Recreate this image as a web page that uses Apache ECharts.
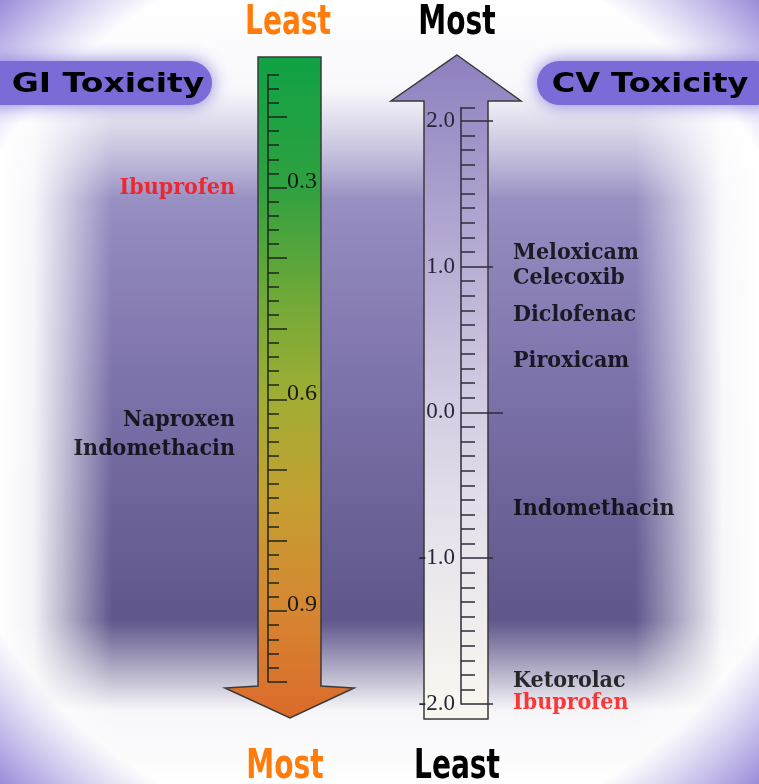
<!DOCTYPE html>
<html>
<head>
<meta charset="utf-8">
<script src="https://cdn.jsdelivr.net/npm/echarts@6/dist/echarts.min.js"></script>
<style>
  html, body { margin: 0; padding: 0; background: #fff; }
  #chart { width: 759px; height: 784px; }
</style>
</head>
<body>
<div id="chart"></div>
<script>
  // GI toxicity scale (top = least toxic)
  var giMajorTicks = [0.2, 0.3, 0.4, 0.5, 0.6, 0.7, 0.8, 0.9, 1.0];
  var giTickLabels = [0.3, 0.6, 0.9];
  var giDrugs = ['Ibuprofen', 'Naproxen', 'Indomethacin'];
  var giValues = [0.30, 0.63, 0.67];

  // CV toxicity scale (top = most toxic)
  var cvMajorTicks = [-2, -1, 1, 2];
  var cvTickLabels = [-2, -1, 0, 1, 2];
  var cvDrugs = ['Meloxicam', 'Celecoxib', 'Diclofenac', 'Piroxicam', 'Indomethacin', 'Ketorolac', 'Ibuprofen'];
  var cvValues = [1.09, 0.92, 0.67, 0.35, -0.66, -1.84, -1.99];

  var highlightDrug = 'Ibuprofen';

  var chart = echarts.init(document.getElementById('chart'));

  function grad(x2, y2, stops) {
      return {
          type: 'linear', x: 0, y: 0, x2: x2, y2: y2,
          colorStops: stops.map(function (s) { return { offset: s[0], color: s[1] }; })
      };
  }

  function drugPoints(names, values) {
      return names.map(function (n, i) {
          return {
              name: n,
              value: [0, values[i]],
              label: { color: n === highlightDrug ? '#ff0a0a' : '#000' }
          };
      });
  }

  var serifLabel = {
      show: true,
      formatter: '{b}',
      fontFamily: '"DejaVu Serif Condensed", "DejaVu Serif", serif',
      fontWeight: 'bold',
      fontSize: 23
  };

  var titleFont = 'bold 40px "Liberation Sans Narrow", "DejaVu Sans Condensed", sans-serif';
  var pillFont = 'bold 26px "DejaVu Sans", sans-serif';
  var white = function (a) { return 'rgba(255,255,255,' + a + ')'; };

  var graphics = [
      // background
      { type: 'rect', z: 0, shape: { x: 0, y: 0, width: 759, height: 784 },
        style: { fill: grad(0, 1, [[0, '#b0a8d0'], [0.2, '#a098c8'], [0.3, '#9188bd'], [0.5, '#7c72aa'],
                                   [0.7, '#675e93'], [0.82, '#5d5489'], [1, '#5d5489']]) } },
      { type: 'rect', z: 0, shape: { x: 0, y: 0, width: 112, height: 784 },
        style: { fill: grad(1, 0, [[0, white(1)], [0.3, white(0.92)], [1, white(0)]]) } },
      { type: 'rect', z: 0, shape: { x: 635, y: 0, width: 124, height: 784 },
        style: { fill: grad(1, 0, [[0, white(0)], [0.7, white(0.95)], [1, white(1)]]) } },
      { type: 'rect', z: 0, shape: { x: 0, y: 0, width: 759, height: 200 },
        style: { fill: grad(0, 1, [[0, white(1)], [0.45, white(0.92)], [1, white(0)]]) } },
      { type: 'rect', z: 0, shape: { x: 0, y: 620, width: 759, height: 164 },
        style: { fill: grad(0, 1, [[0, white(0)], [0.55, white(0.95)], [1, white(1)]]) } },
      { type: 'rect', z: 0, shape: { x: 0, y: 0, width: 759, height: 784 },
        style: { fill: { type: 'radial', x: 0.5, y: 0.5, r: 0.72,
            colorStops: [{ offset: 0, color: 'rgba(120,100,210,0)' }, { offset: 0.82, color: 'rgba(120,100,210,0)' },
                         { offset: 1, color: 'rgba(110,90,200,0.7)' }] } } },

      // GI arrow (pointing down)
      { type: 'polygon', z: 1,
        shape: { points: [[258, 57], [321, 57], [321, 686], [354, 688], [290, 718], [225, 688], [258, 686]] },
        style: { fill: grad(0, 1, [[0, '#0fa244'], [0.2, '#30a140'], [0.37, '#72a938'], [0.52, '#a2ad33'],
                                   [0.67, '#c49f31'], [0.83, '#d68731'], [1, '#db6a2a']]),
                 stroke: '#3a3a3a', lineWidth: 1.5 } },
      // CV arrow (pointing up)
      { type: 'polygon', z: 1,
        shape: { points: [[457, 55], [521, 101], [488, 101], [488, 719], [424, 719], [424, 101], [391, 101]] },
        style: { fill: grad(0, 1, [[0, '#8e7fbe'], [0.1, '#9c8fc6'], [0.3, '#b7acd3'], [0.5, '#d0c9e1'],
                                   [0.7, '#e5e1eb'], [0.9, '#f3f1ee'], [1, '#f9f8ef']]),
                 stroke: '#3a3a3a', lineWidth: 1.5 } },

      // side pills
      { type: 'rect', z: 7, shape: { x: -20, y: 61, width: 232, height: 44, r: 22 },
        style: { fill: '#7b6bd6', shadowBlur: 18, shadowColor: 'rgba(125,111,217,0.9)' } },
      { type: 'rect', z: 7, shape: { x: 537, y: 61, width: 240, height: 44, r: 22 },
        style: { fill: '#7b6bd6', shadowBlur: 18, shadowColor: 'rgba(125,111,217,0.9)' } },
      { type: 'text', z: 8, x: 108, y: 85, scaleX: 1.27,
        style: { text: 'GI Toxicity', font: pillFont, fill: '#000', textAlign: 'center', textVerticalAlign: 'middle' } },
      { type: 'text', z: 8, x: 650, y: 85, scaleX: 1.23,
        style: { text: 'CV Toxicity', font: pillFont, fill: '#000', textAlign: 'center', textVerticalAlign: 'middle' } },

      // ends of the scales
      { type: 'text', z: 8, x: 288, y: 24, scaleX: 0.78,
        style: { text: 'Least', font: titleFont, fill: '#ff7b0a', textAlign: 'center', textVerticalAlign: 'middle' } },
      { type: 'text', z: 8, x: 457, y: 24, scaleX: 0.78,
        style: { text: 'Most', font: titleFont, fill: '#000', textAlign: 'center', textVerticalAlign: 'middle' } },
      { type: 'text', z: 8, x: 285, y: 768, scaleX: 0.78,
        style: { text: 'Most', font: titleFont, fill: '#ff7b0a', textAlign: 'center', textVerticalAlign: 'middle' } },
      { type: 'text', z: 8, x: 457, y: 768, scaleX: 0.78,
        style: { text: 'Least', font: titleFont, fill: '#000', textAlign: 'center', textVerticalAlign: 'middle' } }
  ];

  var tickLine = function (c) { return { color: c, width: 1.5 }; };

  var option = {
      animation: false,
      graphic: graphics,
      grid: [
          { left: 268, top: 74.6, width: 53, height: 607.1, outerBoundsMode: 'none' },
          { left: 461, top: 107.6, width: 27, height: 596.4, outerBoundsMode: 'none' }
      ],
      xAxis: [
          { gridIndex: 0, type: 'value', min: 0, max: 1, show: false },
          { gridIndex: 1, type: 'value', min: 0, max: 1, show: false }
      ],
      yAxis: [
          // GI minor ticks + line
          { gridIndex: 0, type: 'value', position: 'left', offset: 0, inverse: true, min: 0.14, max: 1.0, interval: 0.02, z: 5,
            axisLine: { show: true, lineStyle: tickLine('#1d261d') },
            axisTick: { show: true, inside: true, length: 11, lineStyle: tickLine('#1d261d') },
            axisLabel: { show: false }, splitLine: { show: false } },
          // GI major ticks + labels
          { gridIndex: 0, type: 'value', position: 'left', offset: 0, inverse: true, min: 0.14, max: 1.0, z: 5,
            axisLine: { show: false },
            axisTick: { show: true, inside: true, length: 19, customValues: giMajorTicks, lineStyle: tickLine('#1d261d') },
            axisLabel: { show: true, inside: true, margin: 19, customValues: giTickLabels,
                         formatter: function (v) { return v.toFixed(1); },
                         fontFamily: 'Liberation Serif', fontSize: 24, color: '#1a1a1a',
                         verticalAlign: 'bottom', lineHeight: 12 },
            splitLine: { show: false } },
          // CV minor ticks + line
          { gridIndex: 1, type: 'value', position: 'left', offset: 0, min: -2.0, max: 2.09, interval: 0.1, z: 5,
            axisLine: { show: true, lineStyle: tickLine('#2e2d3a') },
            axisTick: { show: true, inside: true, length: 14, lineStyle: tickLine('#2e2d3a') },
            axisLabel: { show: false }, splitLine: { show: false } },
          // CV major ticks + labels
          { gridIndex: 1, type: 'value', position: 'left', offset: 0, min: -2.0, max: 2.09, z: 5,
            axisLine: { show: false },
            axisTick: { show: true, inside: true, length: 32, customValues: cvMajorTicks, lineStyle: tickLine('#2e2d3a') },
            axisLabel: { show: true, margin: 6, customValues: cvTickLabels,
                         formatter: function (v) { return v.toFixed(1); },
                         fontFamily: 'Liberation Serif', fontSize: 23, color: '#27263a' },
            splitLine: { show: false } },
          // CV zero tick
          { gridIndex: 1, type: 'value', position: 'left', offset: 0, min: -2.0, max: 2.09, z: 5,
            axisLine: { show: false },
            axisTick: { show: true, inside: true, length: 42, customValues: [0], lineStyle: tickLine('#2e2d3a') },
            axisLabel: { show: false }, splitLine: { show: false } }
      ],
      series: [
          { type: 'scatter', xAxisIndex: 0, yAxisIndex: 0, z: 6, symbolSize: 0,
            label: Object.assign({ position: 'left', distance: 33 }, serifLabel),
            data: drugPoints(giDrugs, giValues) },
          { type: 'scatter', xAxisIndex: 1, yAxisIndex: 2, z: 6, symbolSize: 0,
            label: Object.assign({ position: 'right', distance: 52 }, serifLabel),
            data: drugPoints(cvDrugs, cvValues) }
      ]
  };

  chart.setOption(option);
</script>
</body>
</html>
